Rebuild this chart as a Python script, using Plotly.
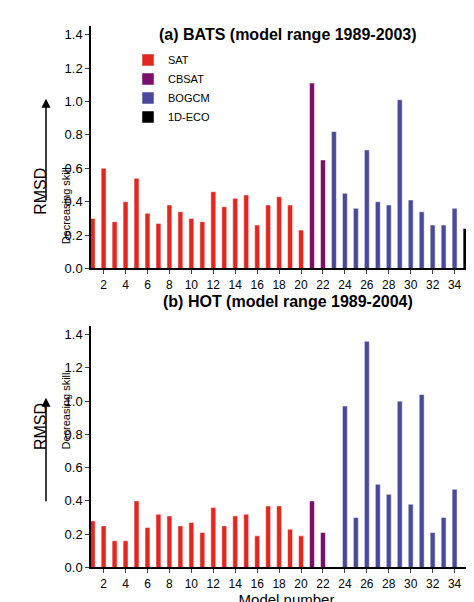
import plotly.graph_objects as go

models = list(range(1, 37))
bats = [0.30,0.60,0.28,0.40,0.54,0.33,0.27,0.38,0.34,0.30,0.28,0.46,0.37,0.42,0.44,0.26,0.38,0.43,0.38,0.23,
        1.11,0.65,0.82,0.45,0.36,0.71,0.40,0.38,1.01,0.41,0.34,0.26,0.26,0.36,0.24,0.23]
hot = [0.28,0.25,0.16,0.16,0.40,0.24,0.32,0.31,0.25,0.27,0.21,0.36,0.25,0.31,0.32,0.19,0.37,0.37,0.23,0.19,
       0.40,0.21,None,0.97,0.30,1.36,0.50,0.44,1.00,0.38,1.04,0.21,0.30,0.47,None,None]
groups = [("SAT", 1, 20, "#e3261f"), ("CBSAT", 21, 22, "#7b0d6c"),
          ("BOGCM", 23, 34, "#4b4a9a"), ("1D-ECO", 35, 36, "#000000")]

H = 602
def py(px):
    return 1 - px / H

fig = go.Figure()
for name, a, b, col in groups:
    xs = models[a-1:b]
    fig.add_trace(go.Bar(x=xs, y=bats[a-1:b], name=name, marker_color=col, width=0.45,
                         xaxis="x", yaxis="y", legendgroup=name))
    fig.add_trace(go.Bar(x=xs, y=hot[a-1:b], name=name, marker_color=col, width=0.45,
                         xaxis="x2", yaxis="y2", showlegend=False, legendgroup=name))

xdom = [83/474, 1.0]
axcommon = dict(range=[0.85, 36.5], tickmode="array", tickvals=list(range(2, 37, 2)),
                ticks="outside", ticklen=4, showline=True, linecolor="black", linewidth=1.5,
                showgrid=False, zeroline=False, tickfont=dict(size=12, color="black"),
                domain=xdom)
yaxcommon = dict(range=[0, 1.45], tickvals=[0,0.2,0.4,0.6,0.8,1.0,1.2,1.4], tickformat=".1f",
                 ticks="outside", ticklen=4, showline=True, linecolor="black", linewidth=1.5,
                 showgrid=False, zeroline=False, tickfont=dict(size=13, color="black"))

top_dom = [py(264), py(264) + (264-27)/H*1.45/1.4]
bot_dom = [py(567), py(567) + (567-331)/H*1.45/1.4]

fig.update_layout(
    width=474, height=602, template="simple_white",
    font=dict(family="Liberation Sans, Arial", color="black"),
    margin=dict(l=0, r=0, t=0, b=0),
    barmode="overlay",
    xaxis=dict(**axcommon, anchor="y"),
    yaxis=dict(**yaxcommon, domain=top_dom, anchor="x"),
    xaxis2=dict(**axcommon, anchor="y2",
                title=dict(text="Model number", font=dict(size=15), standoff=2)),
    yaxis2=dict(**yaxcommon, domain=bot_dom, anchor="x2"),
    legend=dict(x=120/474, y=py(38), xanchor="left", yanchor="top",
                font=dict(size=11), tracegroupgap=0, itemwidth=30, bgcolor="rgba(0,0,0,0)"),
    showlegend=True,
)

for title, ty in [("<b>(a) BATS (model range 1989-2003)</b>", 16), ("<b>(b) HOT (model range 1989-2004)</b>", 297)]:
    fig.add_annotation(text=title, x=280/474, y=py(ty), xref="paper", yref="paper",
                       showarrow=False, font=dict(size=16))

for mid, atop, abot in [(160, 92, 195), (450, 395, 500)]:
    fig.add_annotation(text="RMSD", x=22/474, y=py(mid), xref="paper", yref="paper",
                       textangle=-90, showarrow=False, font=dict(size=16))
    fig.add_annotation(text="Decreasing skill", x=50/474, y=py(mid), xref="paper", yref="paper",
                       textangle=-90, showarrow=False, font=dict(size=11))
    fig.add_annotation(x=38/474, y=py(atop), ax=0, ay=abot-atop, xref="paper", yref="paper",
                       axref="pixel", ayref="pixel", text="", showarrow=True, arrowhead=2,
                       arrowsize=1.2, arrowwidth=1.5, arrowcolor="black")

fig.write_html("out.html")
